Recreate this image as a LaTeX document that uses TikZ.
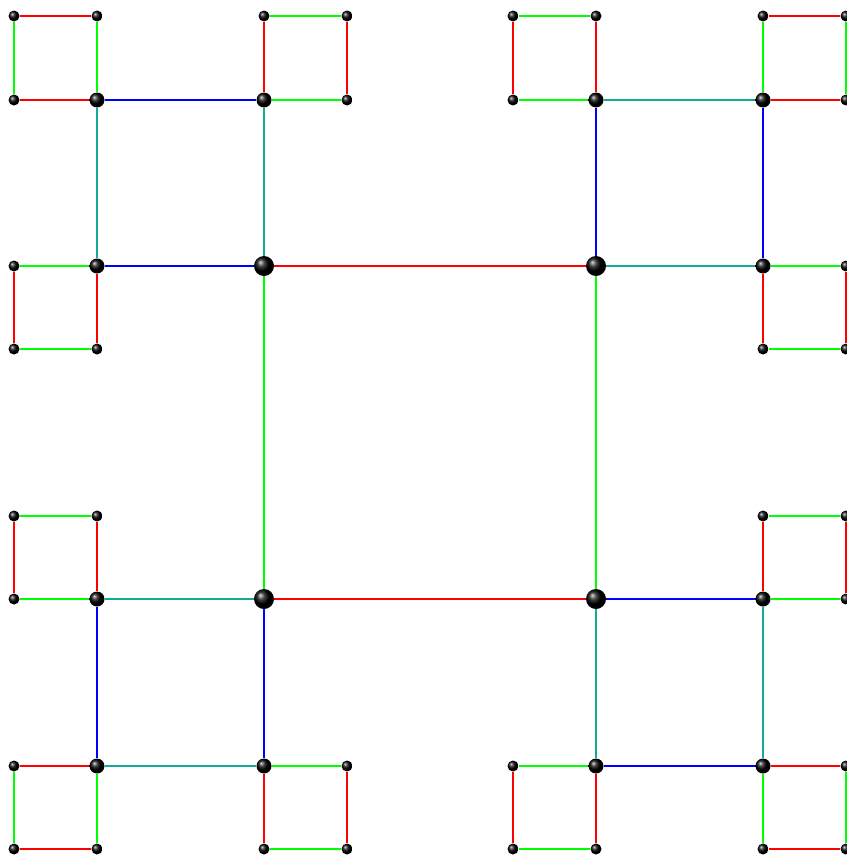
\documentclass[tikz,border=0pt]{standalone}
\usepackage{tikz}
\definecolor{mred}{RGB}{255,0,0}
\definecolor{mgreen}{RGB}{0,255,0}
\definecolor{mblue}{RGB}{0,0,255}
\definecolor{mteal}{RGB}{20,170,150}
\begin{document}
\begin{tikzpicture}[x=1bp,y=-1bp,
  ballbase/.style={circle,inner sep=0pt,shading=ball,ball color=black},
  sball/.style={ballbase,minimum size=11bp},
  mball/.style={ballbase,minimum size=15bp},
  lball/.style={ballbase,minimum size=20bp},
  edge/.style={line width=1.8bp},
  er/.style={edge,mred},
  eg/.style={edge,mgreen},
  eb/.style={edge,mblue},
  et/.style={edge,mteal}]
\useasboundingbox (0,0) rectangle (847,857);
\def\xs{{14,97,264,347,513,596,763,846}}
\def\ys{{16,100,266,349,516,599,766,849}}
% large nodes
\foreach \i/\j in {2/2,5/2,2/5,5/5}{
  \pgfmathsetmacro\px{\xs[\i]}\pgfmathsetmacro\py{\ys[\j]}
  \node[lball] (n\i\j) at (\px,\py) {};}
% medium nodes
\foreach \i/\j in {1/1,2/1,1/2,5/1,6/1,6/2,1/5,1/6,2/6,6/5,5/6,6/6}{
  \pgfmathsetmacro\px{\xs[\i]}\pgfmathsetmacro\py{\ys[\j]}
  \node[mball] (n\i\j) at (\px,\py) {};}
% small nodes
\foreach \i/\j in {0/0,1/0,0/1, 2/0,3/0,3/1, 0/2,0/3,1/3,
                   4/0,5/0,4/1, 6/0,7/0,7/1, 7/2,6/3,7/3,
                   0/4,1/4,0/5, 0/6,0/7,1/7, 3/6,2/7,3/7,
                   6/4,7/4,7/5, 4/6,4/7,5/7, 7/6,6/7,7/7}{
  \pgfmathsetmacro\px{\xs[\i]}\pgfmathsetmacro\py{\ys[\j]}
  \node[sball] (n\i\j) at (\px,\py) {};}
% red edges
\foreach \a/\b in {22/52,25/55,00/10,01/11,20/21,30/31,02/03,12/13,
                   40/41,50/51,60/70,61/71,62/63,72/73,
                   04/05,14/15,06/16,07/17,26/27,36/37,
                   64/65,74/75,46/47,56/57,66/76,67/77}
  \draw[er] (n\a) -- (n\b);
% green edges
\foreach \a/\b in {22/25,52/55,00/01,10/11,20/30,21/31,02/12,03/13,
                   40/50,41/51,60/61,70/71,62/72,63/73,
                   04/14,05/15,06/07,16/17,26/36,27/37,
                   64/74,65/75,46/56,47/57,66/67,76/77}
  \draw[eg] (n\a) -- (n\b);
% blue edges
\foreach \a/\b in {11/21,12/22,51/52,61/62,15/16,25/26,55/65,56/66}
  \draw[eb] (n\a) -- (n\b);
% teal edges
\foreach \a/\b in {11/12,21/22,51/61,52/62,15/25,16/26,55/56,65/66}
  \draw[et] (n\a) -- (n\b);
\end{tikzpicture}
\end{document}
